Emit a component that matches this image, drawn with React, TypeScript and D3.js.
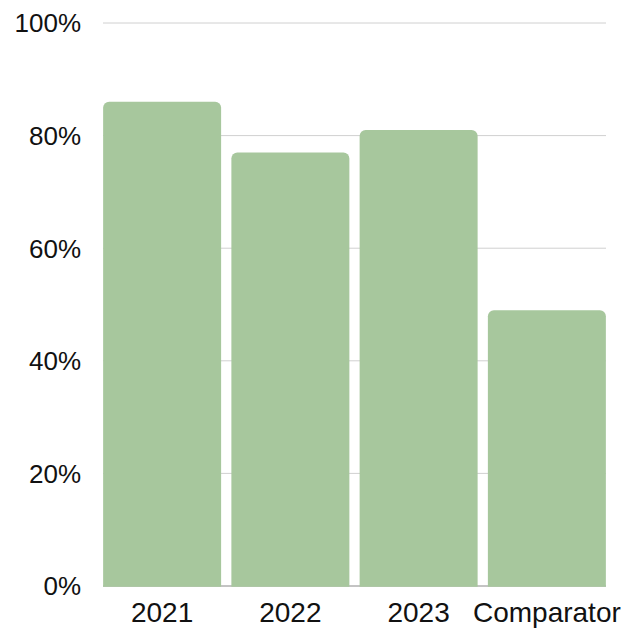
import React from "react";
import * as d3 from "d3";

const categories = ["2021", "2022", "2023", "Comparator"];
const values = [86, 77, 81, 49];
const yTicks = [0, 20, 40, 60, 80, 100];

const W = 640;
const H = 628;

export default function App() {
  const x = d3.scaleBand<string>().domain(categories).range([98, 611]).paddingInner(0.08).paddingOuter(0.04);
  const y = d3.scaleLinear().domain([0, 100]).range([586, 23]);
  const r = 6;
  const barPath = (cx: number, w: number, top: number, bottom: number) => {
    const p = d3.path();
    p.moveTo(cx, bottom);
    p.lineTo(cx, top + r);
    p.arcTo(cx, top, cx + r, top, r);
    p.lineTo(cx + w - r, top);
    p.arcTo(cx + w, top, cx + w, top + r, r);
    p.lineTo(cx + w, bottom);
    p.closePath();
    return p.toString();
  };
  const font = "'Liberation Sans', Arial, sans-serif";
  return (
    <svg width={W} height={H} style={{ position: "absolute", left: 0, top: 0 }}>
      <rect width={W} height={H} fill="#fff" />
      {yTicks.map((t) => (
        <g key={t}>
          <line x1={103} x2={606} y1={y(t)} y2={y(t)} stroke={t === 0 ? "#888" : "#d0d0d0"} strokeWidth={1} />
          <text x={81} y={y(t)} dy="0.36em" textAnchor="end" fontFamily={font} fontSize={26} fill="#111">
            {t}%
          </text>
        </g>
      ))}
      {categories.map((c, i) => (
        <path key={c} d={barPath(x(c)!, x.bandwidth(), y(values[i]), y(0) + 0.7)} fill="#a7c79d" />
      ))}
      {categories.map((c) => (
        <text key={c} x={x(c)! + x.bandwidth() / 2} y={622} textAnchor="middle" fontFamily={font} fontSize={28} fill="#111">
          {c}
        </text>
      ))}
    </svg>
  );
}
